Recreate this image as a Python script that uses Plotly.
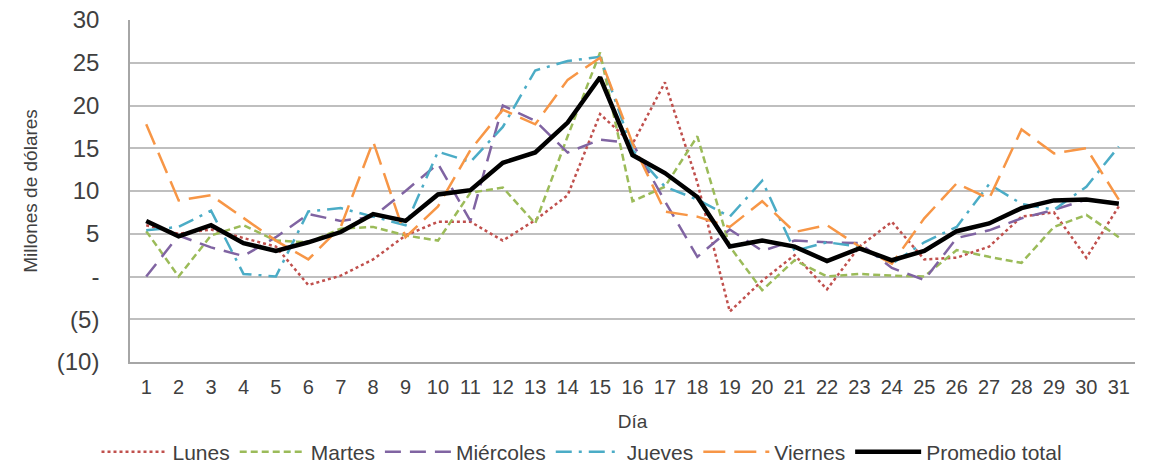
import plotly.graph_objects as go

dias = list(range(1, 32))

lunes = [6.0, 5.0, 5.5, 4.5, 3.5, -1.0, 0.1, 2.0, 4.8, 6.4, 6.4, 4.2, 6.6, 9.5, 19.0, 15.5,
         22.7, 11.0, -4.1, -0.5, 2.5, -1.5, 3.5, 6.4, 2.0, 2.2, 3.5, 7.0, 7.5, 2.2, 8.2]
martes = [5.3, 0.0, 4.8, 6.0, 4.2, 4.0, 5.6, 5.8, 4.8, 4.2, 9.8, 10.4, 6.2, 16.4, 26.2, 8.8,
          10.5, 16.4, 3.5, -1.6, 1.9, 0.0, 0.3, 0.1, 0.0, 3.1, 2.3, 1.6, 5.8, 7.2, 4.6]
miercoles = [0.0, 4.8, 3.4, 2.4, 4.6, 7.3, 6.5, 7.0, 10.0, 13.2, 6.5, 20.0, 18.2, 14.5, 16.0, 15.6,
             8.8, 2.3, 5.5, 3.0, 4.2, 4.0, 3.9, 1.0, -0.4, 4.5, 5.4, 6.8, 7.8, 9.0, 8.6]
jueves = [5.4, 5.8, 7.7, 0.3, 0.0, 7.6, 8.0, 7.0, 6.0, 14.6, 13.4, 17.5, 24.1, 25.2, 25.7, 14.8,
          10.5, 9.0, 7.0, 11.2, 3.0, 4.0, 3.5, 1.5, 4.0, 5.8, 10.8, 8.5, 7.8, 10.5, 15.2]
viernes = [17.8, 8.9, 9.5, 6.8, 4.2, 2.0, 5.8, 15.8, 4.6, 8.2, 14.8, 19.5, 17.8, 23.0, 25.6, 15.6,
           7.6, 7.0, 5.8, 8.8, 5.2, 6.0, 3.5, 1.5, 6.8, 10.9, 9.1, 17.2, 14.4, 15.0, 9.0]
promedio = [6.5, 4.7, 6.0, 3.9, 3.0, 4.0, 5.2, 7.3, 6.5, 9.6, 10.1, 13.3, 14.5, 18.0, 23.3, 14.2,
            12.1, 9.3, 3.5, 4.2, 3.5, 1.8, 3.3, 1.9, 3.0, 5.3, 6.2, 8.0, 8.9, 9.0, 8.5]

y_tickvals = [-10, -5, 0, 5, 10, 15, 20, 25, 30]
y_ticktext = ["(10)", "(5)", "-", "5", "10", "15", "20", "25", "30"]

series = [
    ("Lunes", lunes, "#c0504d", "dot", 2.5),
    ("Martes", martes, "#9bbb59", "7px,4px", 2.5),
    ("Miércoles", miercoles, "#8064a2", "16px,9px", 2.5),
    ("Jueves", jueves, "#4bacc6", "16px,7px,3px,7px", 2.5),
    ("Viernes", viernes, "#f79646", "22px,9px", 2.5),
    ("Promedio total", promedio, "#000000", "solid", 4.5),
]

fig = go.Figure()
for name, vals, color, dash, w in series:
    fig.add_trace(go.Scatter(x=dias, y=vals, name=name, mode="lines",
                             line=dict(color=color, dash=dash, width=w)))

fig.update_layout(
    width=1164, height=468,
    margin=dict(l=130, r=29, t=20, b=106, autoexpand=False),
    paper_bgcolor="white", plot_bgcolor="white",
    font=dict(family="Liberation Sans", color="#404040"),
    showlegend=True,
    legend=dict(orientation="h", x=0.5, xanchor="center", xref="container",
                y=0.034, yanchor="middle", yref="container",
                font=dict(family="Liberation Sans", size=21, color="#404040"),
                itemwidth=66, traceorder="normal"),
    xaxis=dict(range=[0.5, 31.5], tickvals=dias, ticktext=[str(d) for d in dias],
               showgrid=False, zeroline=False, showline=True, linecolor="#a6a6a6", linewidth=1.5,
               tickfont=dict(family="Liberation Sans", size=20, color="#404040"),
               ticklabelstandoff=6,
               title=dict(text="Día", font=dict(family="Liberation Sans", size=19, color="#404040"),
                          standoff=25)),
    yaxis=dict(range=[-10, 30], tickvals=y_tickvals, ticktext=y_ticktext,
               showgrid=True, gridcolor="#bfbfbf", gridwidth=1.5, zeroline=False,
               showline=True, linecolor="#a6a6a6", linewidth=1.5,
               tickfont=dict(family="Liberation Sans", size=24, color="#404040"),
               ticklabelstandoff=24,
               title=dict(text="Millones de dólares", font=dict(family="Liberation Sans", size=19, color="#404040"),
                          standoff=14)),
)

fig.write_html("out.html", config={"displayModeBar": False},
               post_script="document.body.style.margin='0';")
